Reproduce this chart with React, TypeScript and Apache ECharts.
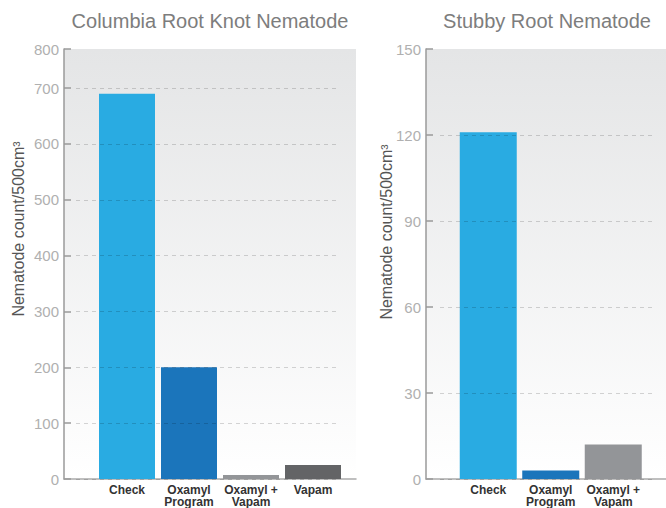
import React, { useEffect, useRef } from "react";
import * as echarts from "echarts";

const leftTitle = "Columbia Root Knot Nematode";
const rightTitle = "Stubby Root Nematode";
const yAxisTitle = "Nematode count/500cm³";

const leftCategories = ["Check", "Oxamyl Program", "Oxamyl + Vapam", "Vapam"];
const leftValues = [690, 200, 7, 25];
const leftTickLabels = ["0", "100", "200", "300", "400", "500", "600", "700", "800"];

const rightCategories = ["Check", "Oxamyl Program", "Oxamyl + Vapam"];
const rightValues = [121, 3, 12];
const rightTickLabels = ["0", "30", "60", "90", "120", "150"];

const palette = ["#29abe2", "#1b75bb", "#939598", "#636466"];

const FONT = "'Liberation Sans', Arial, sans-serif";

export default function App() {
  const ref = useRef<HTMLDivElement>(null);
  useEffect(() => {
    if (!ref.current) return;
    const chart = echarts.init(ref.current, null, { renderer: "svg" });
    const bg = new echarts.graphic.LinearGradient(0, 0, 0, 1, [
      { offset: 0, color: "#e4e5e6" },
      { offset: 1, color: "#ffffff" },
    ]);
    const top = 49;
    const bottom = 479;
    const h = bottom - top;
    const leftMax = 770;
    const rightMax = 150;
    const leftSplitTop = bottom - (700 * h) / leftMax;
    const rightSplitTop = bottom - (120 * h) / rightMax;

    const g = { outerBoundsMode: "none", containLabel: false };
    const grids = [
      { ...g, left: 64, top, width: 292, height: h, show: true, backgroundColor: bg, borderWidth: 0 },
      { ...g, left: 76, top: leftSplitTop, width: 262, height: bottom - leftSplitTop },
      { ...g, left: 96, top, width: 248, height: h },
      { ...g, left: 426, top, width: 240, height: h, show: true, backgroundColor: bg, borderWidth: 0 },
      { ...g, left: 440, top: rightSplitTop, width: 212, height: bottom - rightSplitTop },
      { ...g, left: 457, top, width: 187.5, height: h },
    ];

    const axisLineStyle = { color: "#9a9a9a", width: 1.5 };
    const hiddenX = (gi: number, showLine: boolean) => ({
      type: "value",
      gridIndex: gi,
      min: 0,
      max: 1,
      axisLine: { show: showLine, lineStyle: { color: "#aaaaaa", width: 1.5 } },
      axisTick: { show: false },
      axisLabel: { show: false },
      splitLine: { show: false },
    });
    const catX = (gi: number, cats: string[]) => ({
      type: "category",
      gridIndex: gi,
      data: cats,
      axisLine: { show: false },
      axisTick: { show: false },
      axisLabel: {
        margin: 5,
        color: "#333333",
        fontFamily: FONT,
        fontWeight: "bold",
        fontSize: 12,
        lineHeight: 12,
        interval: 0,
        formatter: (v: string) => v.replace(/ (?=\S+$)/, "\n"),
      },
    });
    const mainY = (gi: number, max: number, interval: number, labels: string[]) => ({
      type: "value",
      gridIndex: gi,
      min: 0,
      max,
      interval,
      axisLine: { show: true, lineStyle: axisLineStyle },
      axisTick: { show: true, inside: true, length: 7, lineStyle: { color: "#9a9a9a", width: 1.5 } },
      axisLabel: {
        show: true,
        margin: 5,
        color: "#b0b0b0",
        fontFamily: FONT,
        fontSize: 15,
        showMaxLabel: true,
        formatter: (_v: number, i: number) => labels[i] ?? "",
      },
      splitLine: { show: false },
    });
    const splitY = (gi: number, max: number, interval: number) => ({
      type: "value",
      gridIndex: gi,
      min: 0,
      max,
      interval,
      z: 10,
      axisLine: { show: false },
      axisTick: { show: false },
      axisLabel: { show: false },
      splitLine: { show: true, lineStyle: { color: "rgba(0,0,0,0.16)", type: [4, 4], width: 1 } },
    });
    const hiddenY = (gi: number, max: number) => ({
      type: "value",
      gridIndex: gi,
      min: 0,
      max,
      show: false,
      splitLine: { show: false },
    });

    const barData = (vals: number[]) =>
      vals.map((v, i) => ({ value: v, itemStyle: { color: palette[i] } }));

    const titleStyle = (text: string) => ({
      text,
      fill: "#7d7d7d",
      font: `20px ${FONT}`,
      textAlign: "center",
      textVerticalAlign: "middle",
    });
    const yTitleStyle = {
      text: yAxisTitle,
      fill: "#555555",
      font: `16px ${FONT}`,
      textAlign: "center",
      textVerticalAlign: "middle",
    };

    chart.setOption({
      animation: false,
      grid: grids,
      xAxis: [
        hiddenX(0, true),
        hiddenX(1, false),
        catX(2, leftCategories),
        hiddenX(3, true),
        hiddenX(4, false),
        catX(5, rightCategories),
      ],
      yAxis: [
        mainY(0, leftMax, 100, leftTickLabels),
        splitY(1, 700, 100),
        hiddenY(2, leftMax),
        mainY(3, rightMax, 30, rightTickLabels),
        splitY(4, 120, 30),
        hiddenY(5, rightMax),
      ],
      series: [
        { type: "bar", xAxisIndex: 2, yAxisIndex: 2, barWidth: 56, data: barData(leftValues) },
        { type: "bar", xAxisIndex: 5, yAxisIndex: 5, barWidth: 57, data: barData(rightValues) },
      ],
      graphic: [
        { type: "text", x: 210, y: 21, style: titleStyle(leftTitle) },
        { type: "text", x: 547, y: 21, style: titleStyle(rightTitle) },
        { type: "text", x: 18, y: 229, rotation: Math.PI / 2, style: yTitleStyle },
        { type: "text", x: 386, y: 232, rotation: Math.PI / 2, style: yTitleStyle },
      ],
    });
    return () => chart.dispose();
  }, []);
  return (
    <div
      ref={ref}
      style={{ position: "fixed", left: 0, top: 0, width: 666, height: 508, background: "#ffffff" }}
    />
  );
}
